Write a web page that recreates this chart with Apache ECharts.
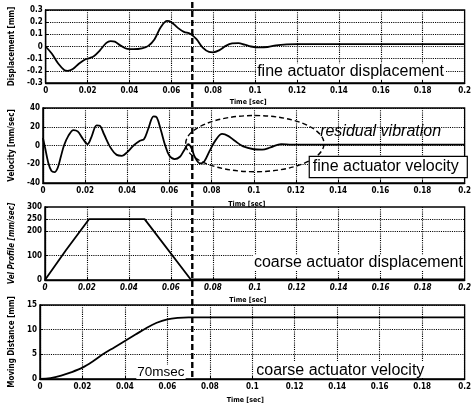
<!DOCTYPE html>
<html><head><meta charset="utf-8">
<script src="https://cdn.jsdelivr.net/npm/echarts@6/dist/echarts.min.js"></script>
<style>html,body{margin:0;padding:0;background:#fff}#c{width:474px;height:405px}</style>
</head><body><div id="c"></div>
<script>
// ---- data ----
const dispT = [0,0.003,0.006,0.009,0.0105,0.013,0.016,0.019,0.021,0.023,0.026,0.029,0.031,0.033,0.036,0.039,0.042,0.046,0.049,0.052,0.055,0.058,0.060,0.063,0.066,0.069,0.072,0.075,0.078,0.080,0.083,0.086,0.089,0.092,0.095,0.098,0.102,0.106,0.110,0.115,0.12,0.2];
const dispV = [0,-0.06,-0.14,-0.195,-0.20,-0.185,-0.14,-0.105,-0.095,-0.08,-0.03,0.03,0.045,0.04,0.005,-0.02,-0.022,-0.015,0.005,0.06,0.16,0.21,0.20,0.155,0.12,0.105,0.06,-0.01,-0.045,-0.048,-0.03,0.005,0.025,0.028,0.015,0.0,-0.008,-0.004,0.01,0.018,0.02,0.02];

const velT = [0,0.001,0.0025,0.004,0.0055,0.007,0.0085,0.010,0.012,0.0145,0.0165,0.019,0.0212,0.023,0.0255,0.027,0.029,0.032,0.035,0.0375,0.040,0.043,0.046,0.048,0.050,0.0525,0.054,0.056,0.058,0.060,0.0625,0.065,0.067,0.069,0.0705,0.072,0.0745,0.0765,0.079,0.082,0.085,0.088,0.091,0.095,0.100,0.104,0.108,0.113,0.118,0.125,0.2];
const velV = [8,-2,-18,-27,-28.5,-24,-12,0,10,16.5,15,7,1.5,9,21.5,21,12,-2,-10,-11,-7,0,5,7,18,31,30,16,0,-11,-14.5,-12,-5,1.5,-3,-12,-19,-17,-6,6,12.3,10,5,-1,-4,-4.5,-2,1.5,1,1,1];

const profT = [0,0.01,0.021,0.0475,0.0695,0.2];
const profV = [0,122,250,250,2,2];

const distT = [0,0.005,0.01,0.015,0.02,0.025,0.03,0.035,0.04,0.045,0.05,0.055,0.06,0.065,0.07,0.2];
const distV = [0,0.2,0.7,1.4,2.3,3.6,5.1,6.4,7.7,9.0,10.3,11.4,12.1,12.4,12.5,12.5];

const profGrid = [100,200,250];
const profLabels = [0,100,200,250,300];
const splitTime = 0.07;
const ellipse = [0.1005, 2, 0.0328, 30]; // center t, center v, radius t, radius v

const yNames = ['Displacement [mm]','Velocity [mm/sec]','Vel Profile [mm/sec]','Moving Distance [mm]'];
const noteText = ['fine actuator displacement','residual vibration','fine actuator velocity','coarse actuator displacement','coarse actuator velocity','70msec'];
const notePanel = [0,1,1,2,3,3];
const noteX = [0.1005,0.131,0.1266,0.0991,0.1014,0.0454];
const noteY = [-0.204,14.5,-23,70,1.8,1.4];

// ---- chart ----
const zip = (a,b)=>a.map((t,i)=>[t,b[i]]);
const NARROW = "'Liberation Sans Narrow','DejaVu Sans Condensed','Arial Narrow',sans-serif";
const ARIAL = "'Liberation Sans',Arial,sans-serif";
const dotted = ()=>({color:'#000', type:'dotted', width:1.1});

const grids = [
  {left:34,right:4,top:10,height:73},
  {left:34,right:4,top:108,height:75},
  {left:34,right:4,top:207,height:73},
  {left:34,right:4,top:305,height:74}
].map(g=>Object.assign(g,{show:true,borderColor:'#000',borderWidth:1.3,backgroundColor:'transparent',z:0}));

function xAx(i, italic, gap){
  return {type:'value',gridIndex:i,min:0,max:0.2,interval:0.02,
    name:'Time [sec]',nameLocation:'middle',nameGap:gap,
    nameTextStyle:{fontFamily:NARROW,fontWeight:'bold',fontSize:7,color:'#000',padding:[0,14,0,0]},
    axisLine:{show:true,onZero:false,lineStyle:{color:'#000',width:1.3}},
    axisTick:{show:true,inside:true,length:3,lineStyle:{color:'#000'}},
    axisLabel:{fontFamily:NARROW,fontWeight:'bold',fontSize:8,color:'#000',margin:4,fontStyle:italic?'italic':'normal',
      formatter:v=>String(Number(v.toFixed(2)))},
    splitLine:{show:true,lineStyle:dotted()}};
}
function yAx(i, opts){
  return Object.assign({type:'value',gridIndex:i,
    name:yNames[i],nameLocation:'middle',nameRotate:90,nameGap:23,
    nameTextStyle:{fontFamily:NARROW,fontWeight:'bold',fontSize:8,color:'#000',fontStyle:i===2?'italic':'normal'},
    axisLine:{show:true,onZero:false,lineStyle:{color:'#000',width:1.3}},
    axisTick:{show:true,inside:true,length:3,lineStyle:{color:'#000'}},
    axisLabel:{fontFamily:NARROW,fontWeight:'bold',fontSize:8,color:'#000',margin:3},
    splitLine:{show:true,lineStyle:dotted()}}, opts);
}

const yAxes = [
  yAx(0,{min:-0.3,max:0.3,interval:0.1}),
  yAx(1,{min:-40,max:40,interval:20}),
  yAx(2,{min:0,max:300,interval:50,splitLine:{show:false}}),
  yAx(3,{min:0,max:15,interval:5})
];
yAxes[0].axisLabel.formatter = v=>Math.abs(v)<1e-9?'0':Number(v.toFixed(1)).toString();
yAxes[2].axisLabel.customValues = profLabels;
yAxes[2].axisTick.customValues = profLabels;

const lineS = (i,data)=>({type:'line',xAxisIndex:i,yAxisIndex:i,data,showSymbol:false,symbol:'none',
  smooth:i===2?false:0.35,lineStyle:{color:'#000',width:1.8},silent:true,z:3});

const series = [
  lineS(0,zip(dispT,dispV)),
  lineS(1,zip(velT,velV)),
  Object.assign(lineS(2,zip(profT,profV)),{markLine:{silent:true,symbol:'none',label:{show:false},z:1,
    lineStyle:dotted(),data:profGrid.map(v=>({yAxis:v}))}}),
  lineS(3,zip(distT,distV)),
  {type:'custom',xAxisIndex:1,yAxisIndex:1,data:[ellipse],encode:{x:0,y:1},silent:true,clip:false,z:4,
   renderItem:(params,api)=>{
     const c = api.coord([api.value(0),api.value(1)]);
     const s = api.size([api.value(2),api.value(3)]);
     return {type:'ellipse',shape:{cx:c[0],cy:c[1],rx:s[0],ry:s[1]},
       style:{fill:'none',stroke:'#000',lineWidth:1.4,lineDash:[5,3]}};
   }}
];

const chart = echarts.init(document.getElementById('c'),null,{renderer:'canvas'});
chart.setOption({animation:false,backgroundColor:'#fff',grid:grids,
  xAxis:[xAx(0,false,16),xAx(1,false,18),xAx(2,true,17),xAx(3,false,18)],
  yAxis:yAxes,series});

// annotations and the 70 msec divider, placed from data coordinates
const gx = chart.convertToPixel({xAxisIndex:0},splitTime);
const yTop = chart.convertToPixel({yAxisIndex:0},0.3) - 8;
const yBot = chart.convertToPixel({yAxisIndex:3},0);
const graphics = [{type:'line',silent:true,z:100,shape:{x1:gx,y1:yTop,x2:gx,y2:yBot},
  style:{stroke:'#000',lineWidth:2.4,lineDash:[6,3]}}];
noteText.forEach((t,k)=>{
  const p = chart.convertToPixel({gridIndex:notePanel[k]},[noteX[k],noteY[k]]);
  const italic = k===1;
  const boxed = k===2;
  const size = k===5 ? 13.5 : 16;
  graphics.push({type:'text',silent:true,z:90,x:p[0],y:p[1],
    style:{text:t,font:(italic?'italic ':'')+size+'px '+ARIAL,fill:'#000',
      align:'left',verticalAlign:'middle',
      backgroundColor:italic?null:'#fff',
      borderColor:boxed?'#000':null,borderWidth:boxed?1.2:0,
      padding:boxed?[2,8,2,3]:[0,1,0,1]}});
});
chart.setOption({graphic:graphics});
</script></body></html>
